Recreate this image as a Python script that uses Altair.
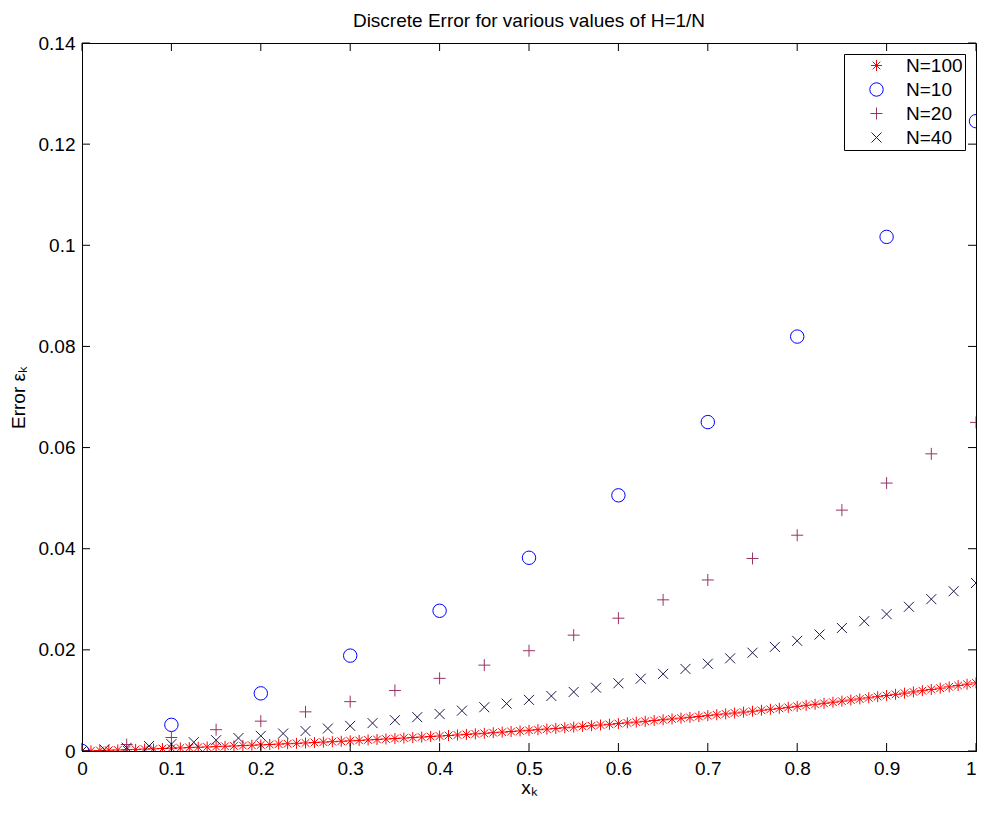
import altair as alt
import pandas as pd

series_names = ["N=100", "N=10", "N=20", "N=40"]
colors = ["#ff0000", "#0000ff", "#993366", "#1a1a4d"]

err_N100 = [
    0, 0.000050, 0.000101, 0.000154, 0.000207, 0.000261, 0.000316, 0.000373, 0.000430, 0.000489,
    0.000549, 0.000610, 0.000672, 0.000735, 0.000800, 0.000865, 0.000932, 0.001000, 0.001070, 0.001141,
    0.001213, 0.001286, 0.001361, 0.001437, 0.001515, 0.001593, 0.001674, 0.001756, 0.001839, 0.001924,
    0.002010, 0.002098, 0.002187, 0.002278, 0.002371, 0.002465, 0.002561, 0.002658, 0.002757, 0.002858,
    0.002961, 0.003065, 0.003172, 0.003280, 0.003390, 0.003501, 0.003615, 0.003731, 0.003848, 0.003968,
    0.004090, 0.004213, 0.004339, 0.004467, 0.004597, 0.004729, 0.004863, 0.004999, 0.005138, 0.005279,
    0.005422, 0.005568, 0.005716, 0.005866, 0.006019, 0.006174, 0.006332, 0.006493, 0.006656, 0.006821,
    0.006989, 0.007160, 0.007334, 0.007510, 0.007690, 0.007872, 0.008057, 0.008244, 0.008435, 0.008629,
    0.008826, 0.009026, 0.009229, 0.009435, 0.009644, 0.009857, 0.010073, 0.010292, 0.010515, 0.010741,
    0.010971, 0.011204, 0.011440, 0.011681, 0.011925, 0.012172, 0.012424, 0.012679, 0.012938, 0.013201,
    0.013468,
]
err_N10 = [0, 0.00517, 0.01140, 0.01886, 0.02773, 0.03821, 0.05056, 0.06504, 0.08195, 0.10166, 0.12454]
err_N20 = [0, 0.00127, 0.00267, 0.00421, 0.00590, 0.00774, 0.00976, 0.01197, 0.01437, 0.01698, 0.01983,
           0.02291, 0.02626, 0.02989, 0.03382, 0.03807, 0.04267, 0.04763, 0.05298, 0.05876, 0.06498]
err_N40 = [0, 0.000315, 0.000646, 0.000994, 0.001358, 0.001740, 0.002141, 0.002560, 0.003000, 0.003460,
           0.003941, 0.004444, 0.004970, 0.005520, 0.006094, 0.006693, 0.007319, 0.007972, 0.008654, 0.009364,
           0.010105, 0.010877, 0.011682, 0.012520, 0.013393, 0.014302, 0.015248, 0.016233, 0.017258, 0.018323,
           0.019433, 0.020585, 0.021784, 0.023030, 0.024324, 0.025670, 0.027068, 0.028520, 0.030027, 0.031593,
           0.033218]

x_ticks = [0, 0.1, 0.2, 0.3, 0.4, 0.5, 0.6, 0.7, 0.8, 0.9, 1.0]
y_ticks = [0, 0.02, 0.04, 0.06, 0.08, 0.1, 0.12, 0.14]

rows = []
idx = 0
for name, vals in zip(series_names, [err_N100, err_N10, err_N20, err_N40]):
    n = len(vals) - 1
    for k, v in enumerate(vals):
        rows.append({"x": k / n, "err": v, "series": name, "idx": idx})
        idx += 1
df = pd.DataFrame(rows)

STAR = "M-1,0L1,0M0,-1L0,1M-0.7,-0.7L0.7,0.7M-0.7,0.7L0.7,-0.7"
PLUS = "M-1,0L1,0M0,-1L0,1"
CROSS = "M-1,-1L1,1M-1,1L1,-1"
shapes = [STAR, "circle", PLUS, CROSS]
sizes = [121, 180, 144, 100]

W, H = 894, 708
FONT = "Liberation Sans"
xscale = alt.Scale(domain=[0, 1], nice=False, zero=False)
yscale = alt.Scale(domain=[0, 0.14], nice=False)

xaxis = alt.Axis(values=x_ticks, format="~g", title="xₖ", labelPadding=8, titlePadding=0,
                 labelAlign={"condition": {"test": "datum.value >= 1", "value": "right"}, "value": "center"})
yaxis = alt.Axis(values=y_ticks, format="~g", title="Error εₖ", labelPadding=7, titlePadding=10)

legend = alt.Legend(
    title=None, orient="none", legendX=762, legendY=11,
    strokeColor="black", fillColor="white", padding=2, cornerRadius=0,
    labelFontSize=19, labelFont=FONT, labelColor="black",
    labelExpr="datum.label + '   '",
    symbolOffset=21, labelOffset=20, rowPadding=4, symbolStrokeWidth=1,
)

points = alt.Chart(df).mark_point(filled=False, strokeWidth=1, clip=True, opacity=1).encode(
    x=alt.X("x:Q", scale=xscale, axis=xaxis),
    y=alt.Y("err:Q", scale=yscale, axis=yaxis),
    color=alt.Color("series:N", scale=alt.Scale(domain=series_names, range=colors), legend=legend),
    shape=alt.Shape("series:N", scale=alt.Scale(domain=series_names, range=shapes), legend=legend),
    size=alt.Size("series:N", scale=alt.Scale(type="ordinal", domain=series_names, range=sizes), legend=legend),
    order=alt.Order("idx:Q"),
)

xt = pd.DataFrame({"v": x_ticks})
yt = pd.DataFrame({"v": y_ticks})
TL = 8
bottom_ticks = alt.Chart(xt).mark_rule(color="black", strokeWidth=1).encode(
    x=alt.X("v:Q", scale=xscale, axis=xaxis), y=alt.value(H), y2=alt.value(H - TL))
top_ticks = alt.Chart(xt).mark_rule(color="black", strokeWidth=1).encode(
    x=alt.X("v:Q", scale=xscale, axis=xaxis), y=alt.value(0), y2=alt.value(TL))
left_ticks = alt.Chart(yt).mark_rule(color="black", strokeWidth=1).encode(
    y=alt.Y("v:Q", scale=yscale, axis=yaxis), x=alt.value(0), x2=alt.value(TL))
right_ticks = alt.Chart(yt).mark_rule(color="black", strokeWidth=1).encode(
    y=alt.Y("v:Q", scale=yscale, axis=yaxis), x=alt.value(W), x2=alt.value(W - TL))

chart = alt.layer(points, bottom_ticks, top_ticks, left_ticks, right_ticks).properties(
    width=W, height=H,
    title=alt.Title("Discrete Error for various values of H=1/N", fontSize=19, font=FONT,
                    fontWeight="normal", color="black", anchor="middle", offset=3),
    autosize=alt.AutoSizeParams(type="none"),
    padding={"left": 74, "top": 35, "right": 2, "bottom": 46},
).configure_view(stroke="black", strokeWidth=1).configure_axis(
    labelFont=FONT, labelFontSize=19, labelColor="black",
    titleFont=FONT, titleFontSize=19, titleFontWeight="normal", titleColor="black",
    domainColor="black", domainWidth=1, ticks=False, tickSize=0, grid=False,
    labelFlush=False,
)

chart.save("out.html", embed_options={"renderer": "svg", "actions": False})
